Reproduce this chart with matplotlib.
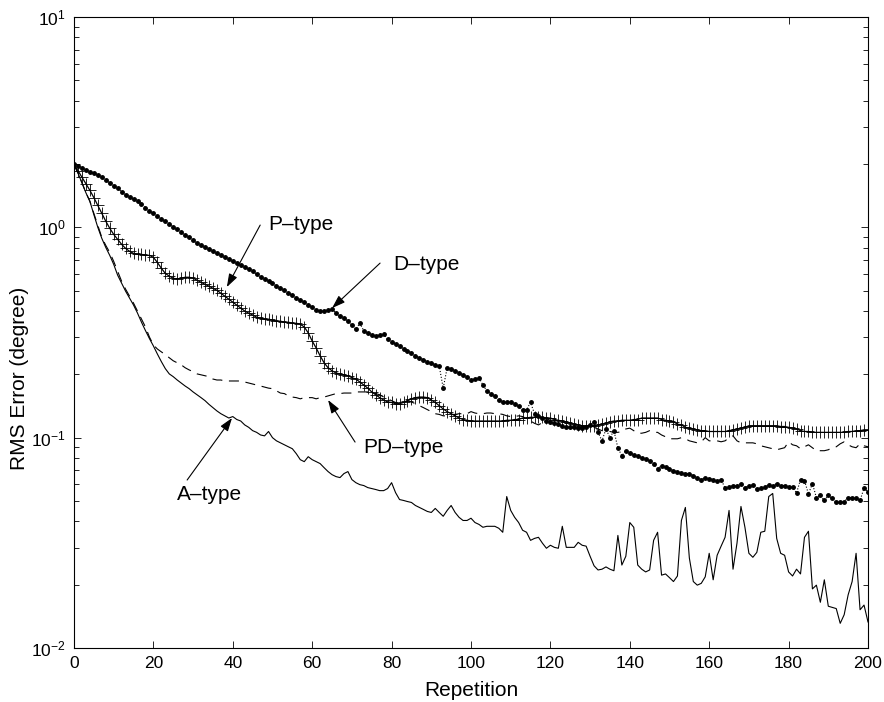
import matplotlib
matplotlib.use('Agg')
import matplotlib.pyplot as plt
import numpy as np
from matplotlib.ticker import NullLocator

# RMS tracking error per repetition for the four learning laws
repetition = np.arange(0, 201)

p_type = [
    1.99, 1.86, 1.73, 1.61, 1.50, 1.385, 1.27, 1.165, 1.07, 0.99,
    0.926, 0.877, 0.830, 0.794, 0.769, 0.752, 0.744, 0.744, 0.736, 0.736,
    0.720, 0.681, 0.639, 0.604, 0.586, 0.573, 0.567, 0.573, 0.579, 0.579,
    0.573, 0.560, 0.548, 0.536, 0.525, 0.513, 0.502, 0.486, 0.471, 0.456,
    0.441, 0.427, 0.413, 0.400, 0.391, 0.383, 0.374, 0.370, 0.366, 0.366,
    0.362, 0.358, 0.358, 0.354, 0.354, 0.350, 0.350, 0.346, 0.336, 0.315,
    0.288, 0.267, 0.245, 0.227, 0.215, 0.208, 0.203, 0.201, 0.199, 0.197,
    0.193, 0.190, 0.184, 0.178, 0.172, 0.165, 0.160, 0.155, 0.151, 0.148,
    0.147, 0.145, 0.145, 0.147, 0.150, 0.153, 0.155, 0.156, 0.156, 0.155,
    0.151, 0.147, 0.142, 0.137, 0.133, 0.130, 0.127, 0.124, 0.122, 0.121,
    0.120, 0.120, 0.120, 0.120, 0.120, 0.120, 0.120, 0.120, 0.120, 0.121,
    0.121, 0.122, 0.122, 0.124, 0.124, 0.125, 0.125, 0.125, 0.125, 0.124,
    0.124, 0.122, 0.121, 0.120, 0.119, 0.117, 0.116, 0.115, 0.114, 0.114,
    0.114, 0.114, 0.115, 0.116, 0.117, 0.119, 0.120, 0.120, 0.121, 0.121,
    0.121, 0.122, 0.122, 0.124, 0.124, 0.124, 0.124, 0.124, 0.122, 0.121,
    0.120, 0.119, 0.116, 0.115, 0.112, 0.111, 0.110, 0.109, 0.108, 0.108,
    0.107, 0.107, 0.107, 0.107, 0.107, 0.108, 0.109, 0.110, 0.111, 0.112,
    0.114, 0.114, 0.114, 0.114, 0.114, 0.114, 0.114, 0.114, 0.113, 0.113,
    0.112, 0.111, 0.110, 0.108, 0.107, 0.107, 0.106, 0.106, 0.106, 0.106,
    0.106, 0.106, 0.106, 0.106, 0.106, 0.107, 0.107, 0.108, 0.108, 0.109,
    0.109,
]

d_type = [
    1.99, 1.95, 1.91, 1.87, 1.83, 1.81, 1.77, 1.73, 1.67, 1.63,
    1.58, 1.53, 1.48, 1.43, 1.40, 1.36, 1.33, 1.29, 1.24, 1.20,
    1.165, 1.13, 1.09, 1.07, 1.035, 1.00, 0.978, 0.947, 0.916, 0.896,
    0.867, 0.839, 0.821, 0.803, 0.786, 0.769, 0.752, 0.736, 0.720, 0.704,
    0.689, 0.674, 0.660, 0.645, 0.631, 0.618, 0.598, 0.579, 0.567, 0.554,
    0.542, 0.525, 0.513, 0.502, 0.486, 0.476, 0.461, 0.451, 0.441, 0.427,
    0.418, 0.404, 0.400, 0.400, 0.404, 0.409, 0.391, 0.378, 0.370, 0.358,
    0.343, 0.328, 0.350, 0.322, 0.315, 0.308, 0.304, 0.308, 0.311, 0.294,
    0.285, 0.279, 0.273, 0.264, 0.258, 0.253, 0.245, 0.240, 0.235, 0.230,
    0.227, 0.222, 0.219, 0.172, 0.215, 0.213, 0.208, 0.203, 0.199, 0.195,
    0.188, 0.190, 0.193, 0.178, 0.167, 0.162, 0.157, 0.151, 0.148, 0.147,
    0.147, 0.144, 0.141, 0.136, 0.136, 0.147, 0.130, 0.127, 0.124, 0.120,
    0.119, 0.118, 0.116, 0.114, 0.113, 0.112, 0.112, 0.111, 0.111, 0.113,
    0.115, 0.119, 0.106, 0.0966, 0.110, 0.100, 0.108, 0.0893, 0.0821, 0.0867,
    0.0848, 0.0830, 0.0821, 0.0803, 0.0795, 0.0777, 0.0753, 0.0713, 0.0736, 0.0728,
    0.0713, 0.0697, 0.0690, 0.0682, 0.0675, 0.0675, 0.0660, 0.0646, 0.0632, 0.0646,
    0.0639, 0.0632, 0.0625, 0.0632, 0.0576, 0.0582, 0.0592, 0.0592, 0.0605, 0.0576,
    0.0592, 0.0598, 0.0570, 0.0576, 0.0582, 0.0598, 0.0592, 0.0605, 0.0592, 0.0592,
    0.0582, 0.0582, 0.0546, 0.0632, 0.0625, 0.0540, 0.0605, 0.0519, 0.0531, 0.0503,
    0.0531, 0.0514, 0.0492, 0.0497, 0.0497, 0.0519, 0.0519, 0.0514, 0.0503, 0.0576,
    0.0553,
]

pd_type = [
    1.99, 1.81, 1.63, 1.46, 1.33, 1.165, 1.02, 0.896, 0.821, 0.760,
    0.689, 0.618, 0.554, 0.508, 0.471, 0.436, 0.400, 0.366, 0.336, 0.301,
    0.276, 0.264, 0.256, 0.248, 0.240, 0.232, 0.227, 0.222, 0.215, 0.210,
    0.206, 0.201, 0.199, 0.197, 0.195, 0.190, 0.188, 0.188, 0.186, 0.186,
    0.186, 0.186, 0.186, 0.184, 0.182, 0.180, 0.178, 0.176, 0.174, 0.172,
    0.171, 0.167, 0.163, 0.162, 0.158, 0.156, 0.155, 0.153, 0.155, 0.155,
    0.155, 0.153, 0.155, 0.156, 0.158, 0.160, 0.162, 0.162, 0.163, 0.163,
    0.163, 0.165, 0.165, 0.165, 0.165, 0.163, 0.162, 0.160, 0.156, 0.153,
    0.150, 0.147, 0.145, 0.147, 0.150, 0.148, 0.145, 0.142, 0.139, 0.136,
    0.133, 0.130, 0.129, 0.127, 0.127, 0.129, 0.129, 0.130, 0.130, 0.130,
    0.133, 0.131, 0.130, 0.130, 0.131, 0.131, 0.130, 0.130, 0.129, 0.127,
    0.126, 0.126, 0.127, 0.126, 0.123, 0.120, 0.117, 0.115, 0.118, 0.121,
    0.123, 0.123, 0.120, 0.119, 0.117, 0.118, 0.115, 0.113, 0.111, 0.113,
    0.113, 0.112, 0.110, 0.108, 0.108, 0.107, 0.106, 0.106, 0.107, 0.110,
    0.111, 0.108, 0.105, 0.105, 0.106, 0.108, 0.106, 0.106, 0.103, 0.101,
    0.0988, 0.0988, 0.0988, 0.100, 0.0988, 0.0966, 0.0956, 0.0945, 0.0956, 0.100,
    0.0966, 0.0966, 0.0966, 0.0956, 0.0966, 0.100, 0.102, 0.0966, 0.0945, 0.0945,
    0.0945, 0.0945, 0.0935, 0.0915, 0.0905, 0.0896, 0.0886, 0.0876, 0.0886, 0.0896,
    0.0956, 0.0925, 0.0915, 0.0886, 0.0905, 0.0925, 0.0896, 0.0867, 0.0867, 0.0867,
    0.0876, 0.0896, 0.0905, 0.0935, 0.0956, 0.0925, 0.0905, 0.0896, 0.0935, 0.0915,
    0.0905,
]

a_type = [
    1.99, 1.81, 1.63, 1.46, 1.33, 1.15, 1.00, 0.887, 0.803, 0.736,
    0.667, 0.592, 0.542, 0.497, 0.461, 0.427, 0.391, 0.354, 0.323, 0.296,
    0.273, 0.250, 0.230, 0.213, 0.201, 0.195, 0.188, 0.182, 0.176, 0.171,
    0.165, 0.160, 0.155, 0.150, 0.144, 0.139, 0.134, 0.130, 0.127, 0.124,
    0.126, 0.122, 0.120, 0.115, 0.112, 0.108, 0.106, 0.103, 0.102, 0.107,
    0.100, 0.0966, 0.0945, 0.0925, 0.0905, 0.0886, 0.0839, 0.0786, 0.0769, 0.0812,
    0.0786, 0.0769, 0.0753, 0.0720, 0.0690, 0.0667, 0.0653, 0.0646, 0.0675, 0.0690,
    0.0632, 0.0611, 0.0598, 0.0592, 0.0579, 0.0573, 0.0567, 0.0560, 0.0560, 0.0573,
    0.0611, 0.0548, 0.0508, 0.0503, 0.0497, 0.0492, 0.0476, 0.0466, 0.0456, 0.0446,
    0.0441, 0.0461, 0.0441, 0.0423, 0.0451, 0.0476, 0.0441, 0.0418, 0.0404, 0.0404,
    0.0414, 0.0395, 0.0387, 0.0375, 0.0379, 0.0379, 0.0379, 0.0371, 0.0355, 0.0525,
    0.0451, 0.0418, 0.0395, 0.0363, 0.0355, 0.0325, 0.0332, 0.0336, 0.0315, 0.0298,
    0.0308, 0.0301, 0.0298, 0.0379, 0.0301, 0.0301, 0.0301, 0.0318, 0.0308, 0.0305,
    0.0273, 0.0246, 0.0235, 0.0237, 0.0243, 0.0237, 0.0233, 0.0343, 0.0248, 0.0273,
    0.0395, 0.0375, 0.0248, 0.0237, 0.0230, 0.0235, 0.0325, 0.0355, 0.0222, 0.0225,
    0.0216, 0.0207, 0.0220, 0.0404, 0.0466, 0.0268, 0.0207, 0.0199, 0.0203, 0.0218,
    0.0282, 0.0211, 0.0276, 0.0305, 0.0336, 0.0451, 0.0237, 0.0315, 0.0471, 0.0375,
    0.0282, 0.0270, 0.0285, 0.0355, 0.0359, 0.0525, 0.0543, 0.0332, 0.0282, 0.0276,
    0.0230, 0.0220, 0.0237, 0.0225, 0.0336, 0.0359, 0.0191, 0.0199, 0.0165, 0.0211,
    0.0158, 0.0156, 0.0154, 0.0131, 0.0144, 0.0179, 0.0207, 0.0282, 0.0152, 0.0160,
    0.0133,
]

plt.rcParams['font.family'] = ['Liberation Sans', 'DejaVu Sans']

fig = plt.figure(figsize=(8.84, 7.02), dpi=100)
ax = fig.add_axes([0.0837, 0.0769, 0.8982, 0.8989])

ax.plot(repetition, a_type, '-', color='k', lw=0.8)
ax.plot(repetition, pd_type, color='k', lw=0.8, dashes=(9, 6))
ax.plot(repetition, p_type, '-', color='k', lw=0.9, marker='+', ms=8, mew=0.6)
ax.plot(repetition, d_type, ':', color='k', lw=0.8, marker='.', ms=5)

ax.set_yscale('log')
ax.set_xlim(0, 200)
ax.set_ylim(1e-2, 1e1)
ax.set_xticks(np.arange(0, 201, 20))
ax.xaxis.set_minor_locator(NullLocator())
ax.tick_params(which='both', direction='in', top=True, right=True,
               labelsize=12.5, width=0.6)
ax.tick_params(which='major', length=5, pad=6)
ax.tick_params(which='minor', length=3.5)
for sp in ax.spines.values():
    sp.set_linewidth(0.8)

ax.set_xlabel('Repetition', fontsize=15)
ax.set_ylabel('RMS Error (degree)', fontsize=15)
ax.xaxis.set_label_coords(0.5, -0.052)
ax.yaxis.set_label_coords(-0.057, 0.428)

# arrows and labels naming each curve
arrow = dict(arrowstyle='-|>,head_length=0.5,head_width=0.17', color='k',
             lw=0.8, mutation_scale=16, shrinkA=0, shrinkB=0)
ax.annotate('', xy=(38.5, 0.52), xytext=(46.9, 1.025), arrowprops=arrow)
ax.text(48.9, 0.971, 'P\u2013type', ha='left', va='baseline', fontsize=15)

ax.annotate('', xy=(65.0, 0.413), xytext=(77.1, 0.676), arrowprops=arrow)
ax.text(80.4, 0.626, 'D\u2013type', ha='left', va='baseline', fontsize=15)

ax.annotate('', xy=(64.0, 0.151), xytext=(70.8, 0.0953), arrowprops=arrow)
ax.text(72.8, 0.0845, 'PD\u2013type', ha='left', va='baseline', fontsize=15)

ax.annotate('', xy=(39.8, 0.124), xytext=(28.5, 0.0629), arrowprops=arrow)
ax.text(25.9, 0.0505, 'A\u2013type', ha='left', va='baseline', fontsize=15)

fig.savefig('out.png', dpi=100)
